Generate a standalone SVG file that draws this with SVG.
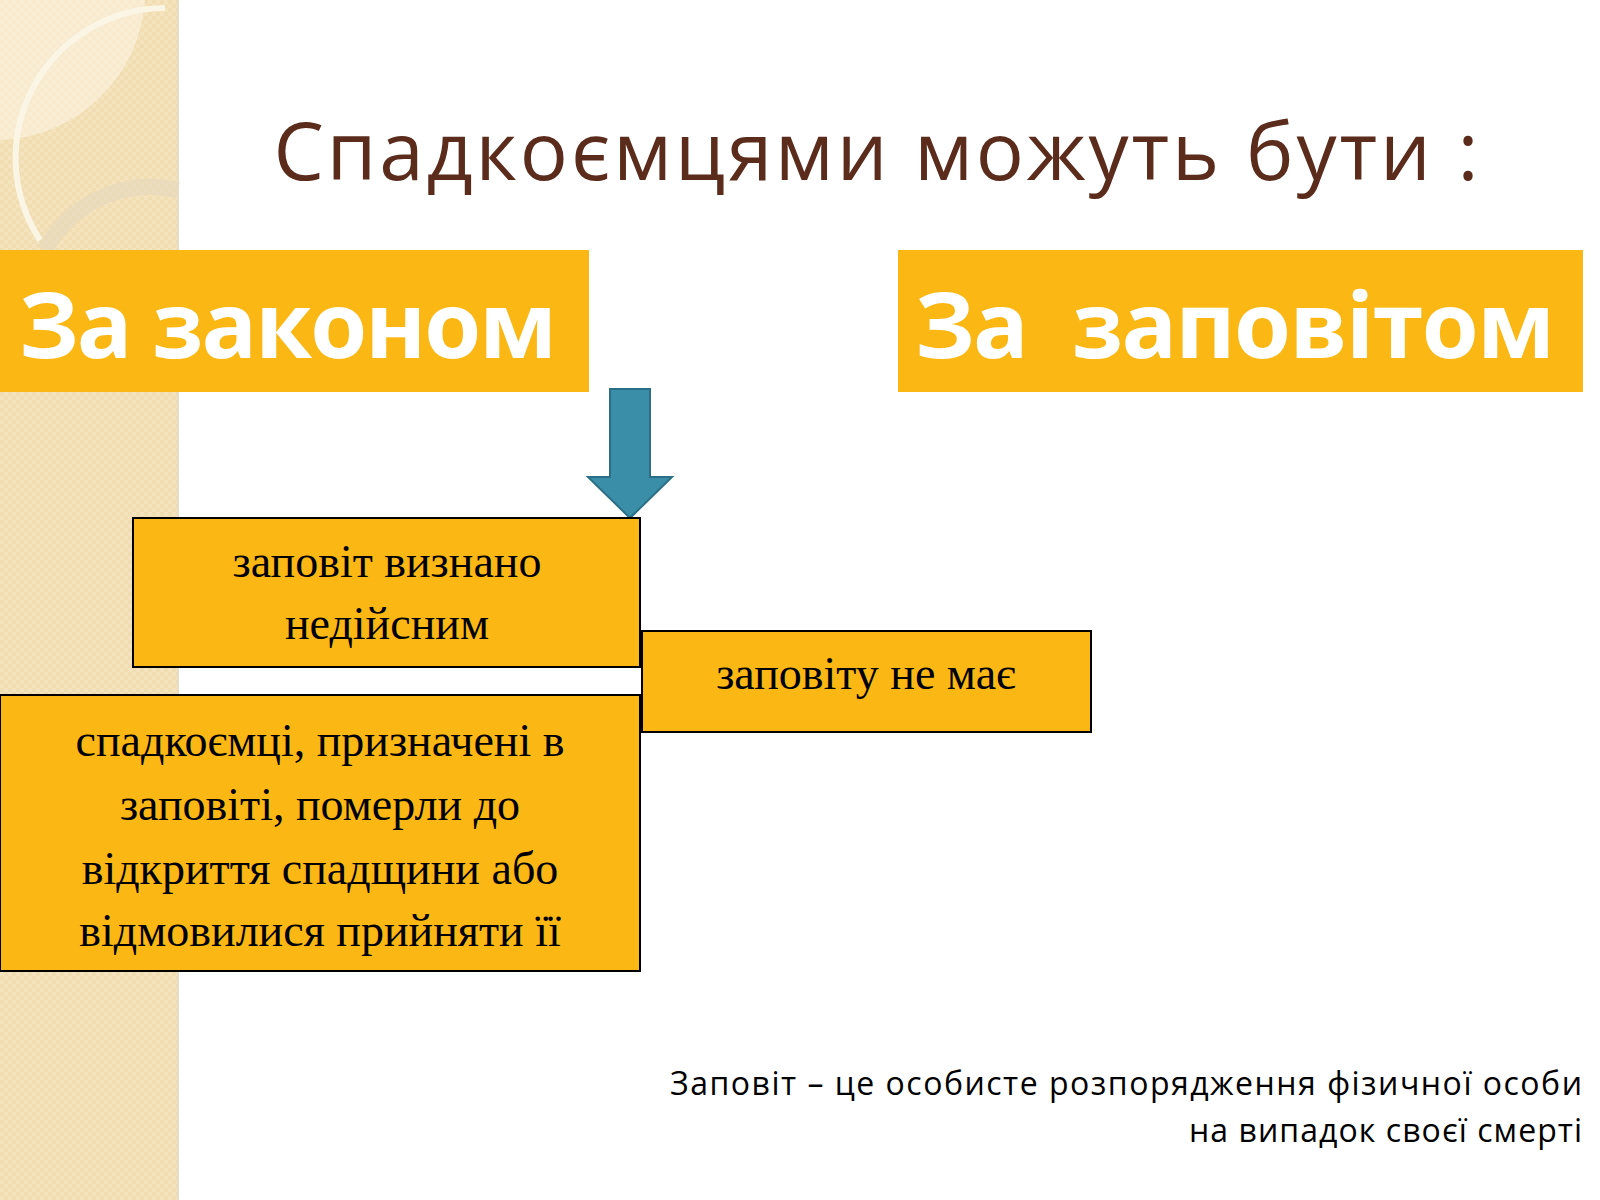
<svg xmlns="http://www.w3.org/2000/svg" width="1600" height="1200" viewBox="0 0 1600 1200">
<defs>
<style>
.box{fill:#fbb714;stroke:#000;stroke-width:2}
.big{fill:#fff;font-family:"Open Sans","DejaVu Sans",sans-serif;font-weight:bold;font-size:92px}
.t{font-family:"Liberation Serif",serif;font-size:46px;fill:#000;text-anchor:middle}
</style>
<pattern id="chk" width="8" height="8" patternUnits="userSpaceOnUse"><rect width="8" height="8" fill="#f4e3bd"/><rect width="4" height="4" fill="#efd9aa" opacity="0.6"/><rect x="4" y="4" width="4" height="4" fill="#efd9aa" opacity="0.6"/></pattern>
</defs>
<rect width="1600" height="1200" fill="#fff"/>
<g id="strip">
<rect x="0" y="0" width="178" height="1200" fill="url(#chk)"/>
<path d="M0 0 H145 A150 150 0 0 1 0 140 Z" fill="#fbf3e2" opacity="0.6"/>
<path d="M165 8 A150 150 0 0 0 40 240" fill="none" stroke="#fbf5e6" stroke-width="6"/>
<path d="M45 250 A120 120 0 0 1 178 190" fill="none" stroke="#e6d8bd" stroke-width="16" opacity="0.7"/>
<line x1="178" y1="0" x2="178" y2="1200" stroke="#e8dcc4" stroke-width="2"/>
</g>
<g id="title"><text x="876" y="180" text-anchor="middle" textLength="1205" font-family="Open Sans,sans-serif" font-size="80" fill="#5b2c1c">Спадкоємцями можуть бути :</text></g>
<g id="n1"><rect x="0" y="250" width="589" height="142" fill="#fbb714"/><text class="big" x="19" y="358" textLength="538">За законом</text></g>
<g id="n2"><rect x="898" y="250" width="685" height="142" fill="#fbb714"/><text class="big" x="915" y="358" textLength="640" xml:space="preserve">За  заповітом</text></g>
<g id="connectors"><path d="M610 389 H650 V477 H672 L630 518 L588 477 H610 Z" fill="#3a8ea8" stroke="#2a6f85" stroke-width="2"/></g>
<g id="n3"><rect class="box" x="133" y="518" width="507" height="149"/><text class="t" x="387" y="577">заповіт визнано</text><text class="t" x="387" y="639">недійсним</text></g>
<g id="n4"><rect class="box" x="642" y="631" width="449" height="101"/><text class="t" x="866" y="689">заповіту не має</text></g>
<g id="n5"><rect class="box" x="0" y="695" width="640" height="276"/>
<text class="t" x="320" y="756">спадкоємці, призначені в</text>
<text class="t" x="320" y="820">заповіті, померли до</text>
<text class="t" x="320" y="884">відкриття спадщини або</text>
<text class="t" x="320" y="946">відмовилися прийняти її</text></g>
<g id="note" font-family="Open Sans,sans-serif" font-size="32" fill="#000" text-anchor="end">
<text x="1582" y="1095" textLength="912">Заповіт – це особисте розпорядження фізичної особи</text>
<text x="1582" y="1142" textLength="393">на випадок своєї смерті</text></g>
</svg>
